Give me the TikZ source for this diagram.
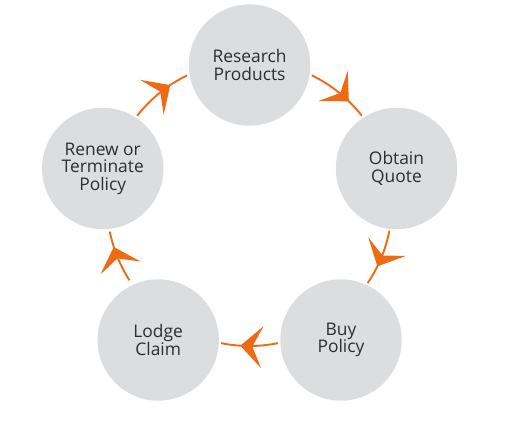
\documentclass[tikz,border=0pt]{standalone}
\usepackage{fontspec}
\setmainfont{Open Sans}
\usetikzlibrary{arrows.meta,decorations.markings,calc}
\definecolor{stepgray}{HTML}{DCDDDF}
\definecolor{flow}{HTML}{EF6A14}
\definecolor{txt}{HTML}{2E2E2E}
\tikzset{
  stage/.style={circle, fill=stepgray, minimum size=121.4pt, inner sep=0pt,
    align=center, text=txt, font=\fontsize{17.4}{17.6}\selectfont},
  flowarc/.style={draw=flow, line width=1.9pt, postaction={decorate},
    decoration={markings, mark=at position #1 with
      {\arrow{Stealth[length=22pt,width=42pt,inset=10pt,flow]}}}}
}
\begin{document}
\begin{tikzpicture}[x=1pt,y=1pt]
\useasboundingbox (0,0) rectangle (516,429);
\node[stage] (research) at (249.6,364) {Research\\Products};
\node[stage] (obtain) at (396.5,260.5) {Obtain\\Quote};
\node[stage] (buy) at (341,89) {Buy\\Policy};
\node[stage] (lodge) at (158.2,89) {Lodge\\Claim};
\node[stage] (renew) at (102.7,260.5) {Renew or\\Terminate\\Policy};
\coordinate (O) at (249.5,225.5);
\coordinate (s1) at ($(O)+(64:142.5)$);
\coordinate (s2) at ($(O)+(-11:142.5)$);
\coordinate (s3) at ($(O)+(-78.5:142.5)$);
\coordinate (s4) at ($(O)+(212.6:142.5)$);
\coordinate (s5) at ($(O)+(142:142.5)$);
\draw[flowarc=0.7] (s1) arc[start angle=64, end angle=38, radius=142.5];
\draw[flowarc=0.66] (s2) arc[start angle=-11, end angle=-34, radius=142.5];
\draw[flowarc=0.66] (s3) arc[start angle=-78.5, end angle=-101.5, radius=142.5];
\draw[flowarc=0.7] (s4) arc[start angle=212.6, end angle=191.4, radius=142.5];
\draw[flowarc=0.7] (s5) arc[start angle=142, end angle=116, radius=142.5];
\end{tikzpicture}
\end{document}
